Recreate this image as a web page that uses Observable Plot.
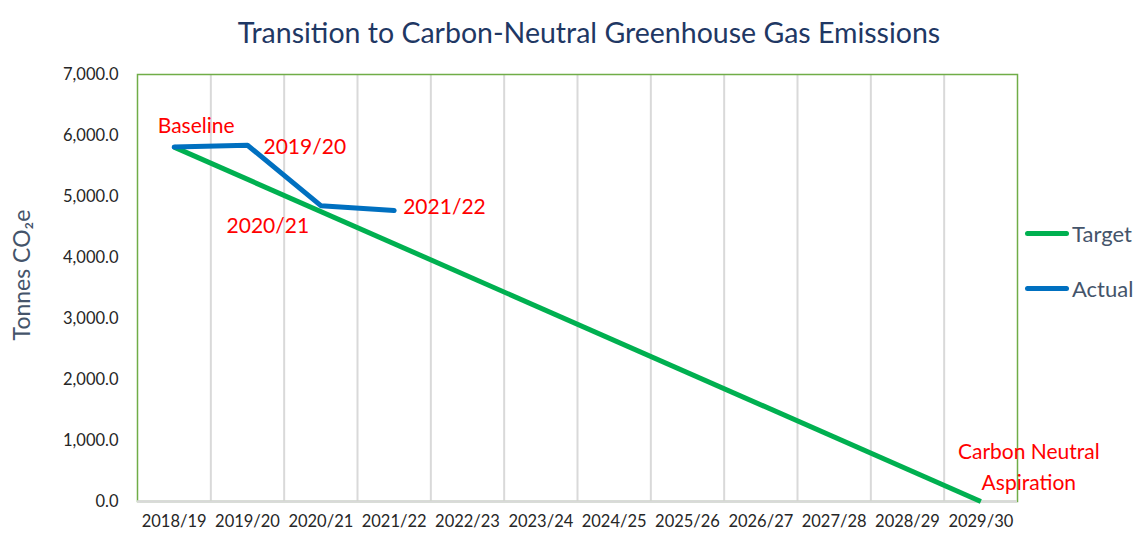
<!DOCTYPE html>
<html>
<head>
<meta charset="utf-8">
<script src="https://cdn.jsdelivr.net/npm/d3@7"></script>
<script src="https://cdn.jsdelivr.net/npm/@observablehq/plot@0.6"></script>
<style>
  html, body { margin: 0; padding: 0; background: #fff; }
  #wrap { position: relative; width: 1136px; height: 540px; overflow: hidden; font-family: Lato, "Open Sans", sans-serif; }
  #title { position: absolute; left: 0; top: 13px; width: 1136px; padding-left: 42px; box-sizing: border-box; text-align: center;
           font-size: 28.5px; font-weight: 400; color: #1F3864; line-height: 38px; white-space: nowrap; }
  #chart { position: absolute; left: 0; top: 60px; }
  .lg { position: absolute; left: 1025px; display: flex; align-items: center; font-size: 22px; color: #44546A; }
  .lg span.sw { display: inline-block; width: 44px; height: 5px; border-radius: 3px; margin-right: 3px; }
</style>
</head>
<body>
<div id="wrap">
  <div id="title">Transition to Carbon-Neutral Greenhouse Gas Emissions</div>
  <div id="chart"></div>
  <div class="lg" style="top:220px"><span class="sw" style="background:#00B050"></span>Target</div>
  <div class="lg" style="top:275px"><span class="sw" style="background:#0070C0"></span>Actual</div>
</div>
<script>
const categories = ["2018/19","2019/20","2020/21","2021/22","2022/23","2023/24","2024/25","2025/26","2026/27","2027/28","2028/29","2029/30"];
const targetYears = ["2018/19","2029/30"];
const targetValues = [5810, 0];
const actualYears = ["2018/19","2019/20","2020/21","2021/22"];
const actualValues = [5810, 5840, 4850, 4770];
const actualLabels = ["Baseline","2019/20","2020/21","2021/22"];
const yTicks = [0,1000,2000,3000,4000,5000,6000,7000];
const yLabel = "Tonnes CO₂e";

const idx = y => categories.indexOf(y);
const target = targetYears.map((y, i) => ({x: idx(y), v: targetValues[i]}));
const actual = actualYears.map((y, i) => ({x: idx(y), v: actualValues[i], label: actualLabels[i]}));
const gridX = categories.slice(1).map((c, i) => i + 0.5);

const labelOffsets = [
  {dx: 22, dy: -21, anchor: "middle"},
  {dx: 16, dy: 2, anchor: "start"},
  {dx: -53, dy: 21, anchor: "middle"},
  {dx: 9, dy: -3, anchor: "start"}
];

const plot = Plot.plot({
  width: 1136,
  height: 480,
  marginLeft: 137,
  marginRight: 119,
  marginTop: 14,
  marginBottom: 39,
  style: {fontFamily: "Lato, sans-serif", overflow: "visible"},
  x: {type: "linear", domain: [-0.5, 11.5]},
  y: {domain: [0, 7000]},
  marks: [
    Plot.ruleX(gridX, {stroke: "#D9D9D9", strokeWidth: 2}),
    Plot.frame({stroke: "#70AD47", strokeWidth: 1.5}),
    Plot.ruleY([0], {stroke: "#D9D9D9", strokeWidth: 2.5}),
    Plot.axisY({ticks: yTicks, tickFormat: d3.format(",.1f"), tickSize: 0, tickPadding: 19,
      fontSize: 16.5, color: "#262626", label: null}),
    Plot.axisX({ticks: categories.map((c, i) => i), tickFormat: i => categories[i], tickSize: 0, tickPadding: 14,
      fontSize: 16.5, color: "#262626", label: null}),
    Plot.text([yLabel], {frameAnchor: "left", text: d => d, rotate: -90, dx: -115, dy: -13,
      fill: "#44546A", fontSize: 23, textAnchor: "middle"}),
    Plot.line(target, {x: "x", y: "v", stroke: "#00B050", strokeWidth: 5, strokeLinecap: "butt"}),
    Plot.line(actual, {x: "x", y: "v", stroke: "#0070C0", strokeWidth: 5, strokeLinecap: "round", strokeLinejoin: "round"}),
    ...actual.map((d, i) => Plot.text([d], {x: "x", y: "v", text: "label", fill: "#FF0000", fontSize: 21,
      dx: labelOffsets[i].dx, dy: labelOffsets[i].dy, textAnchor: labelOffsets[i].anchor})),
    Plot.text([target[1]], {x: "x", y: "v", text: () => "Carbon Neutral\nAspiration", fill: "#FF0000", fontSize: 21,
      dx: 48, dy: -37, lineHeight: 1.5, textAnchor: "middle"})
  ]
});
document.getElementById("chart").appendChild(plot);
</script>
</body>
</html>
